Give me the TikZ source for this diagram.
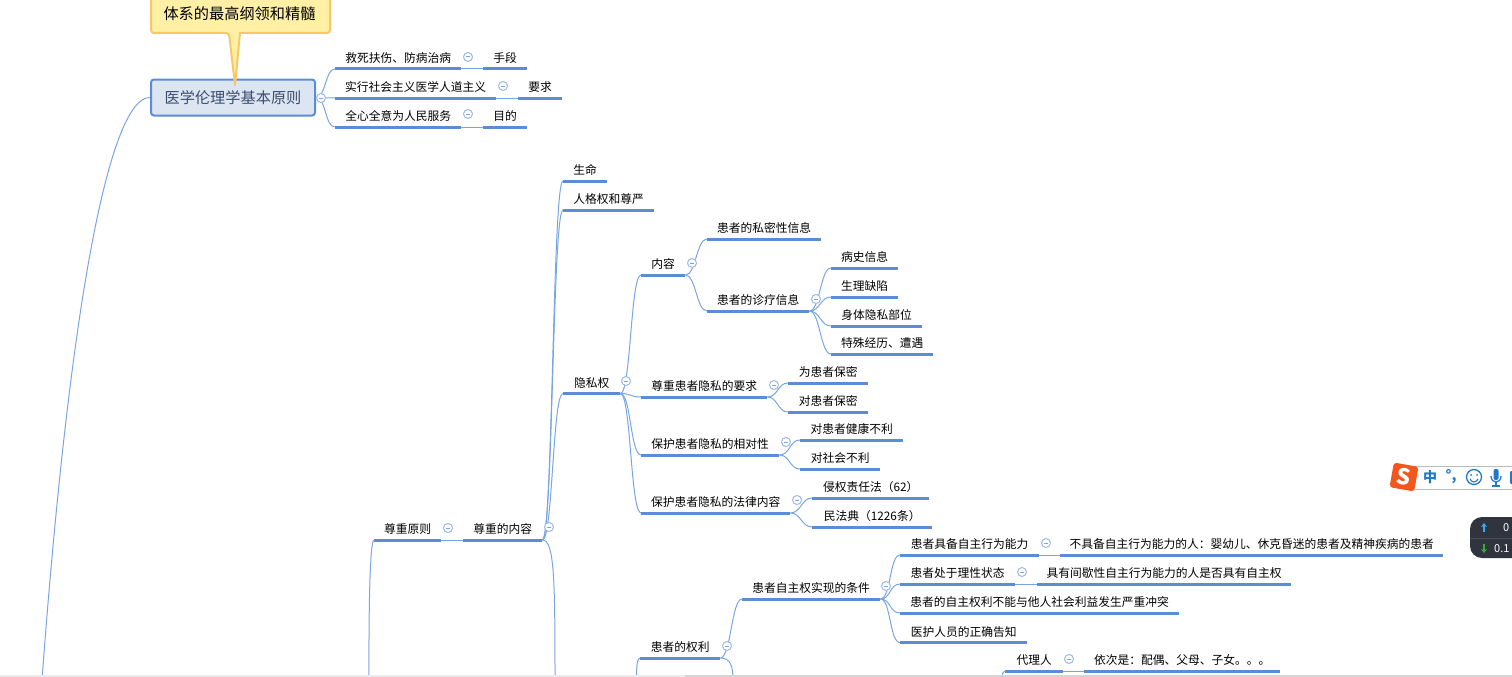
\documentclass[tikz,border=0pt]{standalone}
\usepackage{fontspec}
\setmainfont{Noto Sans CJK SC}
\usetikzlibrary{arrows.meta}
\definecolor{mapBlue}{HTML}{5B8DD6}
\definecolor{mapLine}{HTML}{7AA5E3}
\definecolor{mapRing}{HTML}{9DB9E6}
\definecolor{mapPale}{HTML}{DCE6F3}
\definecolor{mapSlate}{HTML}{3C4C6B}
\definecolor{noteFill}{HTML}{FFF0A5}
\definecolor{noteEdge}{HTML}{F9C765}
\definecolor{imeBlue}{HTML}{1F78C8}
\definecolor{imeOrange}{HTML}{F2571D}
\definecolor{imeEdge}{HTML}{B9BBBF}
\definecolor{netDark}{HTML}{30343F}
\definecolor{netRule}{HTML}{474C58}
\definecolor{netUp}{HTML}{3FA9EE}
\definecolor{netDown}{HTML}{3BAA3F}
\definecolor{edgeLight}{HTML}{EBEBEB}
\definecolor{edgeDark}{HTML}{D4D4D4}
\tikzset{
  every picture/.style={font=\fontsize{11.75}{14}\selectfont},
  map line/.style={draw=mapBlue, line width=3pt, line cap=butt},
  map topic/.style={anchor=south west, inner sep=0pt, minimum height=21pt,
    append after command={(\tikzlastnode.south west) edge[map line] (\tikzlastnode.south east)}},
  map link/.style={draw=mapLine, line width=1pt},
  map fold/.style={circle, draw=mapRing, fill=white, line width=1pt, inner sep=0pt,
    minimum size=9pt, path picture={\draw[mapLine, line width=1pt]
      ([xshift=-2.2pt]path picture bounding box.center) -- ([xshift=2.2pt]path picture bounding box.center);}},
  map root/.style={draw=mapBlue, line width=2pt, rounded corners=3pt, fill=mapPale,
    text=mapSlate, inner sep=0pt, font=\fontsize{15.2}{18}\selectfont},
  map note/.style={draw=noteEdge, line width=2pt, fill=noteFill, line join=round},
  ime sign/.style={text=imeBlue, inner sep=0pt, font=\bfseries\fontsize{14}{16}\selectfont},
  net text/.style={text=white, inner sep=0pt, font=\fontsize{11}{13}\selectfont}
}
\begin{document}
\begin{tikzpicture}[x=1pt,y=-1pt]
  \useasboundingbox (0,0) rectangle (1512,677);
  % first branch
  \node[map root, minimum width=164pt, minimum height=36pt] (yuanze) at (233,97.5) {医学伦理学基本原则};
  \node[map topic, minimum width=126pt] (jiusi) at (335,69) {救死扶伤、防病治病};
  \node[map topic, minimum width=161pt] (shixing) at (335,98) {实行社会主义医学人道主义};
  \node[map topic, minimum width=126pt] (quanxin) at (335,127) {全心全意为人民服务};
  \node[map topic, minimum width=44pt] (shouduan) at (483,69) {手段};
  \node[map topic, minimum width=44pt] (yaoqiu) at (518,98) {要求};
  \node[map topic, minimum width=44pt] (mudi) at (483,127) {目的};
  % second branch
  \node[map topic, minimum width=67pt] (zunzhong) at (374,540) {尊重原则};
  \node[map topic, minimum width=79pt] (neirong) at (463,540) {尊重的内容};
  \node[map topic, minimum width=44pt] (shengming) at (563,181) {生命};
  \node[map topic, minimum width=91pt] (renge) at (563,210) {人格权和尊严};
  \node[map topic, minimum width=57pt] (yinsi) at (563,393.5) {隐私权};
  \node[map topic, minimum width=44pt] (nr) at (641,275) {内容};
  \node[map topic, minimum width=114pt] (simi) at (707,239) {患者的私密性信息};
  \node[map topic, minimum width=102pt] (zhenliao) at (707,311) {患者的诊疗信息};
  \node[map topic, minimum width=67pt] (bingshi) at (831,268) {病史信息};
  \node[map topic, minimum width=67pt] (shengli) at (831,297) {生理缺陷};
  \node[map topic, minimum width=91pt] (shenti) at (831,326) {身体隐私部位};
  \node[map topic, minimum width=102pt] (teshu) at (831,354) {特殊经历、遭遇};
  \node[map topic, minimum width=126pt] (yaoq) at (641,397) {尊重患者隐私的要求};
  \node[map topic, minimum width=80pt] (baomi) at (788,383) {为患者保密};
  \node[map topic, minimum width=80pt] (duibao) at (788,412) {对患者保密};
  \node[map topic, minimum width=138pt] (xiangdui) at (641,455) {保护患者隐私的相对性};
  \node[map topic, minimum width=103pt] (jiankang) at (800,440) {对患者健康不利};
  \node[map topic, minimum width=80pt] (shehui) at (800,469) {对社会不利};
  \node[map topic, minimum width=149pt] (falv) at (641,513) {保护患者隐私的法律内容};
  \node[map topic, minimum width=117pt] (qinquan) at (812,498) {侵权责任法（62）};
  \node[map topic, minimum width=120pt] (minfa) at (812,527) {民法典（1226条）};
  \node[map topic, minimum width=80pt] (quanli) at (640,658) {患者的权利};
  \node[map topic, minimum width=138pt] (tiaojian) at (742,599) {患者自主权实现的条件};
  \node[map topic, minimum width=139pt] (juebei) at (900,555) {患者具备自主行为能力};
  \node[map topic, minimum width=383pt] (bujubei) at (1060,555) {不具备自主行为能力的人：婴幼儿、休克昏迷的患者及精神疾病的患者};
  \node[map topic, minimum width=115pt] (lixing) at (900,584) {患者处于理性状态};
  \node[map topic, minimum width=254pt] (jianxie) at (1037,584) {具有间歇性自主行为能力的人是否具有自主权};
  \node[map topic, minimum width=279pt] (chongtu) at (900,613) {患者的自主权利不能与他人社会利益发生严重冲突};
  \node[map topic, minimum width=127pt] (gaozhi) at (900,642.5) {医护人员的正确告知};
  \node[map topic, minimum width=58pt] (daili) at (1005,671) {代理人};
  \node[map topic, minimum width=196pt] (yici) at (1084,671) {依次是：配偶、父母、子女。。。};
  % ends that run off the page
  \coordinate (mainEnd) at (42,680);
  \coordinate (zunEnd) at (369,680);
  \coordinate (neiEnd) at (555,680);
  \coordinate (quanEnd) at (637,680);
  \coordinate (quanDown) at (733,680);
  \coordinate (daiEnd) at (1002,680);
  % connectors
  \draw[map link] (yuanze.west) .. controls (110,97) and (70,300) .. (mainEnd);
  \foreach \a/\b in {yuanze/jiusi,yuanze/shixing,yuanze/quanxin}
    \draw[map link] (\a.east) to[out=0,in=180,distance=10pt] (\b.south west);
  \foreach \a/\b in {jiusi/shouduan,shixing/yaoqiu,quanxin/mudi,zunzhong/neirong,
      juebei/bujubei,lixing/jianxie,daili/yici}
    \draw[map link] (\a.south east) -- (\b.south west);
  \foreach \a/\b in {neirong/shengming,neirong/renge,neirong/yinsi,
      yinsi/nr,yinsi/yaoq,yinsi/xiangdui,yinsi/falv,
      nr/simi,nr/zhenliao,zhenliao/bingshi,zhenliao/shengli,zhenliao/shenti,zhenliao/teshu,
      yaoq/baomi,yaoq/duibao,xiangdui/jiankang,xiangdui/shehui,falv/qinquan,falv/minfa,
      quanli/tiaojian,tiaojian/juebei,tiaojian/lixing,tiaojian/chongtu,tiaojian/gaozhi}
    \draw[map link] (\a.south east) to[out=0,in=180,distance=10.5pt] (\b.south west);
  \draw[map link] (neirong.south east) to[out=0,in=90,out distance=12pt,in distance=100pt] (neiEnd);
  \draw[map link] (quanli.south east) to[out=0,in=90,out distance=10pt,in distance=14pt] (quanDown);
  \draw[map link] (zunzhong.south west) to[out=180,in=270,distance=6pt] (zunEnd);
  \draw[map link] (quanli.south west) to[out=180,in=270,distance=5pt] (quanEnd);
  \draw[map link] (daili.south west) to[out=180,in=270,distance=4pt] (daiEnd);
  % fold marks
  \node[map fold] (foldRoot) at (321,98) {};
  \node[map fold] (foldJiusi) at (468,57) {};
  \node[map fold] (foldShixing) at (503,86) {};
  \node[map fold] (foldQuanxin) at (468,114) {};
  \node[map fold] (foldZun) at (448,528) {};
  \node[map fold] (foldNei) at (549,527) {};
  \node[map fold] (foldYinsi) at (626,381) {};
  \node[map fold] (foldNr) at (692,263) {};
  \node[map fold] (foldZhen) at (816,299) {};
  \node[map fold] (foldYaoq) at (774,385) {};
  \node[map fold] (foldXiang) at (786,442) {};
  \node[map fold] (foldFalv) at (797,500) {};
  \node[map fold] (foldQuan) at (727,646) {};
  \node[map fold] (foldTiao) at (886,586) {};
  \node[map fold] (foldJue) at (1046,543) {};
  \node[map fold] (foldLi) at (1022,572) {};
  \node[map fold] (foldDai) at (1069,659) {};
  % note
  \draw[map note, rounded corners=3pt] (151,-6) -- (151,33) -- (229,33)
    [sharp corners] -- (235,85) -- (240,33) [rounded corners=3pt] -- (330,33) -- (330,-6) -- cycle;
  \node[inner sep=0pt, font=\fontsize{15.2}{18}\selectfont] (note) at (239.5,14) {体系的最高纲领和精髓};
  % input bar
  \draw[imeEdge, fill=white, line width=1pt] (1413,466) rectangle (1520,489);
  \node[rotate=-10, fill=imeOrange, rounded corners=3pt, minimum size=25pt, inner sep=0pt,
    text=white, font=\bfseries\fontsize{22}{24}\selectfont] (imeLogo) at (1404,477) {S};
  \node[ime sign] (imeZh) at (1430,477) {中};
  \node[ime sign] (imeDot) at (1451,477) {°,};
  \draw[imeBlue, line width=1.3pt] (1474,477) circle (7.5);
  \fill[imeBlue] (1471,475) circle (1) (1477,475) circle (1);
  \draw[imeBlue, line width=1.1pt] (1470,479) .. controls (1472,483) and (1476,483) .. (1478,479);
  \fill[imeBlue, rounded corners=2pt] (1493.5,469) rectangle (1498.5,480);
  \draw[imeBlue, line width=1.2pt] (1491,476) .. controls (1491,484) and (1501,484) .. (1501,476);
  \draw[imeBlue, line width=1.4pt] (1496,482) -- (1496,486) (1492,486) -- (1500,486);
  \fill[imeBlue, rounded corners=1pt] (1510,471) rectangle (1520,484);
  % speed box
  \fill[netDark, rounded corners=12pt] (1470,517) rectangle (1530,558);
  \draw[netRule, line width=1pt] (1470,538) -- (1512,538);
  \draw[netUp, line width=1.5pt, -{Stealth[length=4pt,width=6pt]}] (1484,532) -- (1484,523);
  \draw[netDown, line width=1.5pt, -{Stealth[length=4pt,width=6pt]}] (1484,544) -- (1484,553);
  \node[net text, anchor=west] (netUpText) at (1503,528) {0};
  \node[net text, anchor=west] (netDownText) at (1494,549) {0.1};
  % window edge
  \fill[edgeLight] (0,675) rectangle (1512,677);
  \fill[edgeDark] (685,675) rectangle (1512,677);
\end{tikzpicture}
\end{document}
